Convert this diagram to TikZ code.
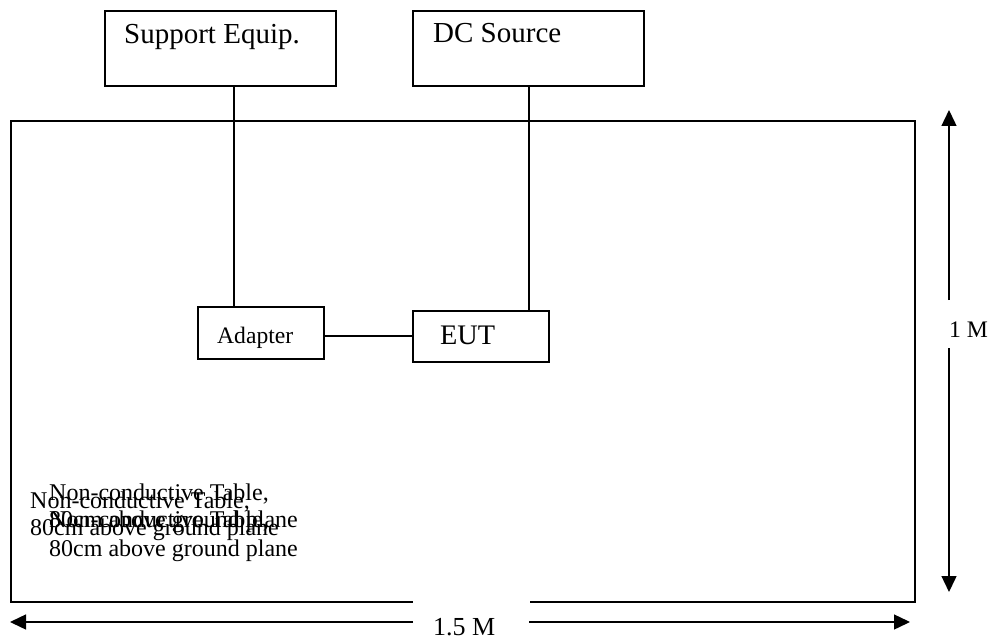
\documentclass[tikz,border=0pt]{standalone}
\usepackage{fontspec}
\setmainfont{Liberation Serif}
\usetikzlibrary{arrows.meta}
\begin{document}
\begin{tikzpicture}[x=1pt,y=-1pt,
  boxed/.style={draw=black,line width=1.7pt,rectangle,inner sep=0pt,anchor=north west},
  wire/.style={draw=black,line width=1.4pt},
  dimline/.style={draw=black,line width=1.4pt,-{Triangle[length=16pt,width=15pt]}},
  txt/.style={anchor=base west,inner sep=0pt,text=black},
  fs/.style={font=\fontsize{#1}{#1}\selectfont}]
\useasboundingbox (0,0) rectangle (1000,639);
% boxes
\node[boxed,minimum width=231pt,minimum height=75pt] (sup) at (104,10) {};
\node[boxed,minimum width=231pt,minimum height=75pt] (dc) at (412,10) {};
\node[boxed,minimum width=904pt,minimum height=481pt] (table) at (10,120) {};
\node[boxed,minimum width=126pt,minimum height=52pt,fill=white] (adp) at (197,306) {};
\node[boxed,minimum width=136pt,minimum height=51pt,fill=white] (eut) at (412,310) {};
% box texts
\node[txt,fs=29] (suptxt) at (124,44) {Support Equip.};
\node[txt,fs=29] (dctxt) at (433,43) {DC Source};
\node[txt,fs=23.6] (adptxt) at (217,343) {Adapter};
\node[txt,fs=28.3] (euttxt) at (440,344) {EUT};
% connectors
\coordinate (sx) at (234,0);
\coordinate (dx) at (529,0);
\draw[wire] (sup.south -| sx) -- (adp.north -| sx);
\draw[wire] (dc.south -| dx) -- (eut.north -| dx);
\coordinate (ay) at (0,336);
\draw[wire] (adp.east |- ay) -- (eut.west |- ay);
% table labels
\node[txt,fs=24] (ta1) at (30,508) {Non-conductive Table,};
\node[txt,fs=24] (ta2) at (30,535) {80cm above ground plane};
\node[txt,fs=24] (tb1) at (49,500) {Non-conductive Table,};
\node[txt,fs=24] (tb2) at (49,527) {80cm above ground plane};
\node[txt,fs=24] (tc1) at (49,527) {Non-conductive Table,};
\node[txt,fs=24] (tc2) at (49,556) {80cm above ground plane};
% vertical dimension
\coordinate (vtop) at (949,110);
\coordinate (vbot) at (949,592);
\coordinate (vg1) at (949,300);
\coordinate (vg2) at (949,348);
\draw[dimline] (vg1) -- (vtop);
\draw[dimline] (vg2) -- (vbot);
\node[txt,fs=23.7] (onem) at (949,337) {1 M};
% horizontal dimension
\fill[white] (413,601.1) rectangle (530,639);
\coordinate (hl) at (10,622);
\coordinate (hr) at (910,622);
\coordinate (hg1) at (413,622);
\coordinate (hg2) at (529,622);
\draw[dimline] (hg1) -- (hl);
\draw[dimline] (hg2) -- (hr);
\node[txt,fs=26] (onefive) at (433,635) {1.5 M};
\end{tikzpicture}
\end{document}
